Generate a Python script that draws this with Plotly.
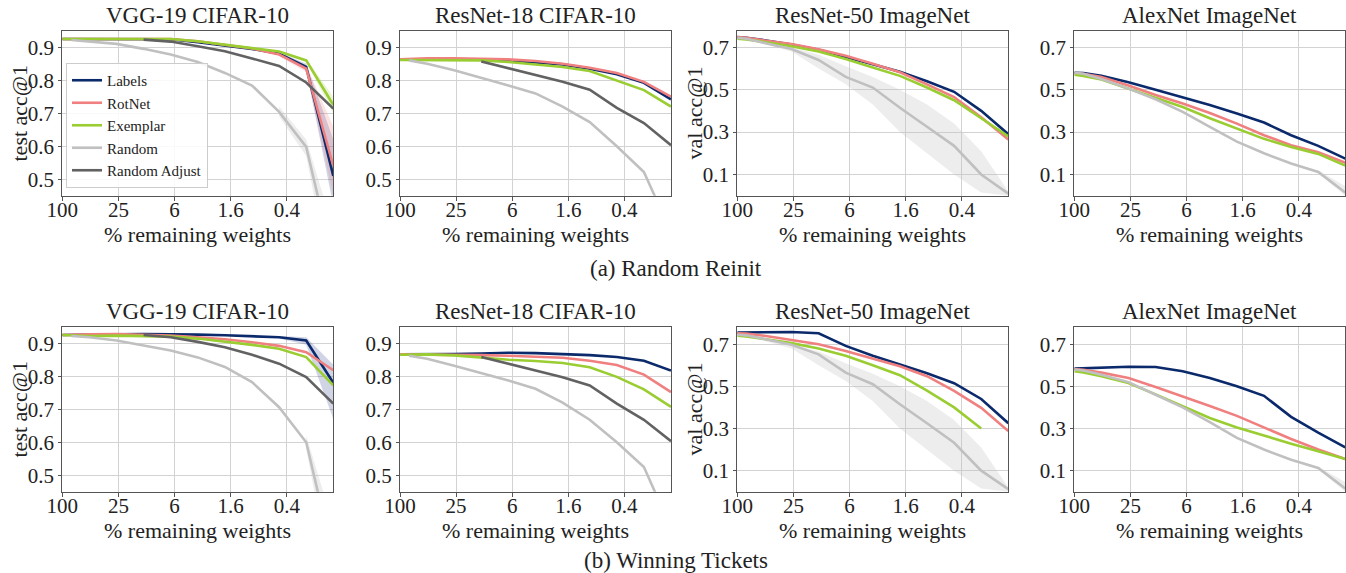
import plotly.graph_objects as go

# % remaining weights at the plotted pruning rounds
PCT = [100, 80, 51.2, 26.2144, 13.4218, 6.8719, 3.5184, 1.8014, 0.9223, 0.4722, 0.2418, 0.1238]
TICK_VALS = [100, 25, 6.25, 1.5625, 0.390625]
TICK_TEXT = ["100", "25", "6", "1.6", "0.4"]

SERIES = ["Labels", "RotNet", "Exemplar", "Random", "Random Adjust"]
COLORS = {"Labels": "#0b2a6b", "RotNet": "#f08080", "Exemplar": "#9acd32",
          "Random": "#c0c0c0", "Random Adjust": "#626262"}
BAND_COLORS = {"Labels": "rgba(40,60,130,0.22)", "RotNet": "rgba(240,128,128,0.22)",
               "Exemplar": "rgba(154,205,50,0.2)", "Random": "rgba(190,190,190,0.28)"}

N = None
# ---------- (a) Random Reinit ----------
vgg_ri_labels = [.925, .925, .925, .925, .926, .924, .915, .906, .895, .880, .840, .510]
vgg_ri_rotnet = [.925, .925, .926, .927, .927, .925, .918, .908, .896, .878, .835, .540]
vgg_ri_exemplar = [.925, .925, .925, .925, .925, .925, .918, .908, .898, .887, .860, .725]
vgg_ri_random = [N, .922, .918, .910, .895, .878, .855, .822, .784, .704, .598, .250]
vgg_ri_radj = [N, N, N, N, .923, .917, .903, .888, .866, .843, .793, .714]

r18_ri_labels = [.863, .863, .865, .865, .863, .860, .855, .848, .835, .818, .792, .742]
r18_ri_rotnet = [.863, .864, .866, .866, .865, .863, .858, .850, .838, .822, .795, .750]
r18_ri_exemplar = [.861, .861, .862, .862, .860, .855, .848, .840, .828, .800, .770, .720]
r18_ri_random = [N, .860, .850, .830, .808, .784, .760, .720, .673, .600, .522, .340]
r18_ri_radj = [N, N, N, N, .857, .836, .816, .795, .771, .716, .670, .603]

r50_ri_labels = [.748, .745, .733, .713, .688, .655, .620, .585, .540, .490, .400, .290]
r50_ri_rotnet = [.748, .745, .732, .715, .690, .660, .622, .582, .525, .465, .370, .265]
r50_ri_exemplar = [.740, .737, .725, .705, .680, .645, .605, .565, .510, .450, .365, .280]
r50_ri_random = [.745, .740, .720, .692, .640, .560, .510, .415, .325, .235, .100, .010]

alex_ri_labels = [.580, .578, .565, .535, .500, .465, .428, .388, .345, .285, .235, .175]
alex_ri_rotnet = [.578, .575, .560, .520, .475, .435, .390, .340, .285, .238, .205, .155]
alex_ri_exemplar = [.570, .565, .548, .505, .460, .418, .365, .318, .268, .230, .197, .142]
alex_ri_random = [.580, .575, .550, .505, .455, .395, .325, .255, .200, .152, .112, .015]

# ---------- (b) Winning Tickets ----------
vgg_wt_labels = [.925, .925, .926, .927, .928, .928, .926, .924, .922, .918, .908, .780]
vgg_wt_rotnet = [.925, .925, .927, .928, .926, .923, .918, .912, .903, .892, .873, .818]
vgg_wt_exemplar = [.925, .924, .922, .923, .922, .920, .914, .905, .895, .883, .858, .772]
vgg_wt_random = [N, .922, .918, .908, .893, .878, .857, .828, .782, .706, .600, .250]
vgg_wt_radj = [N, N, N, N, .925, .918, .904, .888, .865, .838, .797, .717]

r18_wt_labels = [.866, .866, .866, .867, .869, .871, .870, .868, .864, .858, .847, .817]
r18_wt_rotnet = [.866, .866, .866, .866, .864, .862, .860, .856, .847, .834, .805, .752]
r18_wt_exemplar = [.865, .865, .866, .863, .856, .850, .846, .840, .827, .798, .760, .707]
r18_wt_random = [N, .862, .853, .832, .810, .787, .762, .720, .668, .600, .525, .340]
r18_wt_radj = [N, N, N, N, .858, .838, .817, .797, .772, .717, .668, .603]

r50_wt_labels = [.755, .756, .757, .758, .752, .692, .645, .605, .562, .515, .440, .325]
r50_wt_rotnet = [.752, .750, .740, .720, .700, .668, .632, .595, .548, .478, .398, .288]
r50_wt_exemplar = [.740, .737, .725, .705, .680, .645, .600, .553, .480, .400, .300, N]
r50_wt_random = [.745, .742, .725, .697, .652, .565, .510, .415, .325, .232, .100, .012]

alex_wt_labels = [.584, .585, .588, .593, .592, .572, .540, .500, .455, .355, .280, .210]
alex_wt_rotnet = [.582, .578, .565, .540, .497, .453, .407, .360, .305, .250, .200, .155]
alex_wt_exemplar = [.572, .566, .548, .516, .462, .407, .350, .305, .265, .228, .192, .155]
alex_wt_random = [.580, .575, .555, .520, .460, .400, .330, .255, .200, .152, .113, .015]

# ---------- spread bands (lower, upper) ----------
vgg_ri_labels_lo = [N]*9 + [.875, .830, .420]
vgg_ri_labels_hi = [N]*9 + [.885, .850, .620]
vgg_ri_rotnet_lo = [N]*9 + [.872, .825, .450]
vgg_ri_rotnet_hi = [N]*9 + [.884, .845, .660]
vgg_ri_exemplar_lo = [N]*10 + [.855, .700]
vgg_ri_exemplar_hi = [N]*10 + [.865, .750]
vgg_ri_random_lo = [N]*9 + [.690, .570, .150]
vgg_ri_random_hi = [N]*9 + [.720, .620, .350]

vgg_wt_labels_lo = [N]*9 + [.914, .895, .670]
vgg_wt_labels_hi = [N]*9 + [.922, .918, .835]
vgg_wt_random_lo = [N]*10 + [.580, .150]
vgg_wt_random_hi = [N]*10 + [.620, .350]

r50_random_lo = [.745, .740, .715, .680, .600, .525, .430, .300, .200, .100, .015, .000]
r50_random_hi = [.745, .742, .725, .700, .665, .610, .560, .500, .430, .340, .210, .020]

alex_random_lo = [N]*10 + [.105, .000]
alex_random_hi = [N]*10 + [.120, .045]

PANELS = [
    dict(title="VGG-19 CIFAR-10", ylab="test acc@1", yr=[0.45, 0.95], yt=[0.5, 0.6, 0.7, 0.8, 0.9],
         lines=[vgg_ri_labels, vgg_ri_rotnet, vgg_ri_exemplar, vgg_ri_random, vgg_ri_radj],
         bands={"Labels": (vgg_ri_labels_lo, vgg_ri_labels_hi), "RotNet": (vgg_ri_rotnet_lo, vgg_ri_rotnet_hi),
                "Exemplar": (vgg_ri_exemplar_lo, vgg_ri_exemplar_hi), "Random": (vgg_ri_random_lo, vgg_ri_random_hi)}),
    dict(title="ResNet-18 CIFAR-10", ylab=None, yr=[0.45, 0.95], yt=[0.5, 0.6, 0.7, 0.8, 0.9],
         lines=[r18_ri_labels, r18_ri_rotnet, r18_ri_exemplar, r18_ri_random, r18_ri_radj], bands={}),
    dict(title="ResNet-50 ImageNet", ylab="val acc@1", yr=[0.0, 0.778], yt=[0.1, 0.3, 0.5, 0.7],
         lines=[r50_ri_labels, r50_ri_rotnet, r50_ri_exemplar, r50_ri_random, None],
         bands={"Random": (r50_random_lo, r50_random_hi)}),
    dict(title="AlexNet ImageNet", ylab=None, yr=[0.0, 0.778], yt=[0.1, 0.3, 0.5, 0.7],
         lines=[alex_ri_labels, alex_ri_rotnet, alex_ri_exemplar, alex_ri_random, None],
         bands={"Random": (alex_random_lo, alex_random_hi)}),
    dict(title="VGG-19 CIFAR-10", ylab="test acc@1", yr=[0.45, 0.95], yt=[0.5, 0.6, 0.7, 0.8, 0.9],
         lines=[vgg_wt_labels, vgg_wt_rotnet, vgg_wt_exemplar, vgg_wt_random, vgg_wt_radj],
         bands={"Labels": (vgg_wt_labels_lo, vgg_wt_labels_hi), "Random": (vgg_wt_random_lo, vgg_wt_random_hi)}),
    dict(title="ResNet-18 CIFAR-10", ylab=None, yr=[0.45, 0.95], yt=[0.5, 0.6, 0.7, 0.8, 0.9],
         lines=[r18_wt_labels, r18_wt_rotnet, r18_wt_exemplar, r18_wt_random, r18_wt_radj], bands={}),
    dict(title="ResNet-50 ImageNet", ylab="val acc@1", yr=[0.0, 0.783], yt=[0.1, 0.3, 0.5, 0.7],
         lines=[r50_wt_labels, r50_wt_rotnet, r50_wt_exemplar, r50_wt_random, None],
         bands={"Random": (r50_random_lo, r50_random_hi)}),
    dict(title="AlexNet ImageNet", ylab=None, yr=[0.0, 0.783], yt=[0.1, 0.3, 0.5, 0.7],
         lines=[alex_wt_labels, alex_wt_rotnet, alex_wt_exemplar, alex_wt_random, None],
         bands={"Random": (alex_random_lo, alex_random_hi)}),
]

W, H = 1346, 573
COL_PX = [(62.3, 333.3), (400.0, 671.0), (737.3, 1008.3), (1074.3, 1345.3)]
ROW_PX = [(30.7, 195.7), (326.7, 491.7)]
XTITLE_Y = [234, 530]
FONT = "Liberation Serif, Times New Roman, serif"
TXT = "#222222"

fig = go.Figure()
layout = dict(width=W, height=H, margin=dict(l=0, r=0, t=0, b=0, autoexpand=False),
              template="none", paper_bgcolor="white", plot_bgcolor="white",
              font=dict(family=FONT, color=TXT, size=21), annotations=[])

for i, p in enumerate(PANELS):
    r, c = divmod(i, 4)
    k = "" if i == 0 else str(i + 1)
    x0, x1 = COL_PX[c]
    ytop, ybot = ROW_PX[r]
    xd = [x0 / W, x1 / W]
    yd = [1 - ybot / H, 1 - ytop / H]
    layout["xaxis" + k] = dict(
        domain=xd, anchor="y" + k, type="log", range=[2, -0.9073], automargin=False,
        tickvals=TICK_VALS, ticktext=TICK_TEXT, showgrid=True, gridcolor="#d3d3d3", gridwidth=1.3,
        showline=True, linecolor="#555555", linewidth=1.3, mirror=True,
        ticks="outside", ticklen=4, tickcolor="#555555", tickfont=dict(size=21),
        ticklabelstandoff=-9, zeroline=False)
    layout["yaxis" + k] = dict(
        domain=yd, anchor="x" + k, range=p["yr"], tickvals=p["yt"], automargin=False,
        tickformat=".1f", showgrid=True, gridcolor="#d3d3d3", gridwidth=1.3,
        showline=True, linecolor="#555555", linewidth=1.3, mirror=True,
        ticks="outside", ticklen=3, tickcolor="#555555", tickfont=dict(size=21), zeroline=False)
    layout["annotations"].append(dict(
        text=p["title"], xref="paper", yref="paper", x=(xd[0] + xd[1]) / 2, y=yd[1],
        xanchor="center", yanchor="bottom", yshift=1, showarrow=False, font=dict(size=23)))
    layout["annotations"].append(dict(
        text="% remaining weights", xref="paper", yref="paper", x=(xd[0] + xd[1]) / 2,
        y=1 - XTITLE_Y[r] / H, xanchor="center", yanchor="middle", showarrow=False,
        font=dict(size=22)))
    if p["ylab"]:
        layout["annotations"].append(dict(
            text=p["ylab"], xref="paper", yref="paper", x=(x0 - 43) / W, y=(yd[0] + yd[1]) / 2,
            xanchor="center", yanchor="middle", textangle=-90, showarrow=False, font=dict(size=22)))

    # bands first
    for name, (lo, hi) in p["bands"].items():
        idx = [j for j in range(len(PCT)) if lo[j] is not None]
        xs = [PCT[j] for j in idx]
        ys = [hi[j] for j in idx] + [lo[j] for j in idx][::-1]
        fig.add_trace(go.Scatter(x=xs + xs[::-1], y=ys, fill="toself", mode="lines",
                                 line=dict(width=0), fillcolor=BAND_COLORS[name],
                                 hoverinfo="skip", showlegend=False,
                                 xaxis="x" + k, yaxis="y" + k))
    for name, vals in zip(SERIES, p["lines"]):
        if vals is None:
            continue
        fig.add_trace(go.Scatter(x=PCT, y=vals, mode="lines", name=name,
                                 line=dict(color=COLORS[name], width=2.6),
                                 showlegend=(i == 0), legendgroup=name,
                                 xaxis="x" + k, yaxis="y" + k))

layout["annotations"].append(dict(text="(a) Random Reinit", xref="paper", yref="paper",
                                  x=676 / W, y=1 - 268 / H, xanchor="center", yanchor="middle",
                                  showarrow=False, font=dict(size=23)))
layout["annotations"].append(dict(text="(b) Winning Tickets", xref="paper", yref="paper",
                                  x=676 / W, y=1 - 560 / H, xanchor="center", yanchor="middle",
                                  showarrow=False, font=dict(size=23)))
layout["legend"] = dict(x=66 / W, y=1 - 63 / H, xanchor="left", yanchor="top",
                        bgcolor="rgba(255,255,255,0.85)", bordercolor="#cccccc", borderwidth=1,
                        font=dict(size=15, family=FONT, color=TXT), itemwidth=30,
                        tracegroupgap=0)
fig.update_layout(**layout)
fig.write_html("out.html", config={"displayModeBar": False},
               post_script="document.body.style.margin='0';document.body.style.overflow='hidden';")
